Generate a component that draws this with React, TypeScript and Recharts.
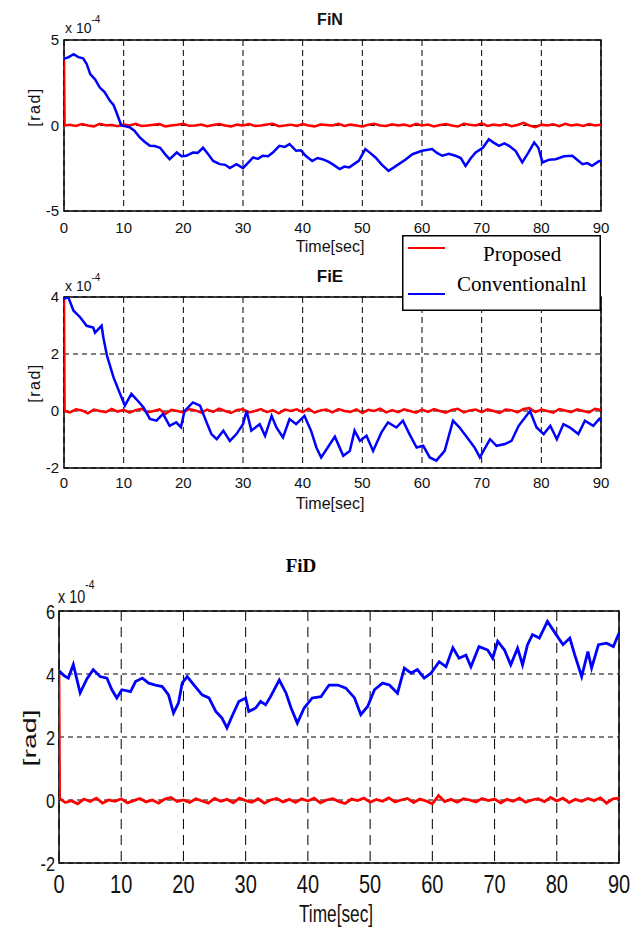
import React from 'react';
import { LineChart, Line, XAxis, YAxis, CartesianGrid, ReferenceArea, Legend } from 'recharts';

const SANS = 'Liberation Sans, Arial, Helvetica, sans-serif';
const SERIF = 'Liberation Serif, Times New Roman, serif';

const timeTicks = [0, 10, 20, 30, 40, 50, 60, 70, 80, 90];
const finTicks = [-5, 0, 5];
const fieTicks = [-2, 0, 2, 4];
const fidTicks = [-2, 0, 2, 4, 6];

// Conventional (blue) traces: time [sec], value [x1e-4 rad]
const finBlueT = [0, 0.8, 1.6, 2.4, 3.2, 3.8, 4.4, 5.2, 6.0, 6.8, 7.7, 8.3, 8.8, 9.6, 10.3, 11.0, 11.8, 12.7, 13.5, 14.4, 15.2, 16.1, 17.0, 17.7, 18.9, 19.7, 20.5, 21.6, 22.4, 23.3, 24.2, 25.0, 26.1, 27.0, 27.8, 28.9, 30.0, 30.8, 31.7, 32.5, 33.3, 34.2, 35.0, 36.1, 37.0, 37.8, 38.9, 39.7, 40.5, 41.6, 42.5, 43.3, 44.2, 45.0, 46.2, 47.0, 47.8, 49.4, 50.5, 51.3, 52.2, 53.3, 54.4, 55.3, 56.1, 57.2, 58.4, 60.0, 61.7, 62.5, 63.4, 64.5, 65.6, 66.5, 67.3, 68.2, 69.0, 70.2, 71.2, 72.0, 72.9, 73.8, 74.6, 75.7, 76.8, 77.8, 78.8, 79.5, 80.2, 81.3, 82.4, 83.8, 85.2, 86.0, 86.9, 87.7, 88.5, 89.6, 90];
const finBlueV = [3.9, 4.0, 4.17, 4.0, 3.93, 3.6, 3.0, 2.7, 2.22, 1.95, 1.44, 1.2, 0.76, 0.0, -0.05, -0.1, -0.3, -0.7, -0.95, -1.19, -1.2, -1.3, -1.7, -1.97, -1.58, -1.8, -1.77, -1.58, -1.6, -1.3, -1.7, -2.07, -2.26, -2.3, -2.49, -2.26, -2.49, -2.2, -1.87, -1.95, -1.77, -1.8, -1.58, -1.19, -1.25, -1.09, -1.48, -1.45, -1.77, -2.07, -1.9, -1.97, -2.1, -2.26, -2.55, -2.4, -2.45, -2.07, -1.38, -1.6, -1.87, -2.3, -2.65, -2.45, -2.26, -2.0, -1.68, -1.48, -1.38, -1.6, -1.77, -1.65, -1.77, -1.9, -2.36, -1.9, -1.58, -1.3, -0.8, -1.0, -1.19, -1.05, -1.19, -1.5, -2.16, -1.6, -0.99, -1.3, -2.16, -2.0, -1.97, -1.8, -1.77, -2.0, -2.26, -2.2, -2.36, -2.1, -2.05];

const fieBlueT = [0, 0.7, 1.6, 2.7, 3.8, 4.9, 5.2, 6.3, 6.6, 7.2, 8.3, 9.4, 10.2, 11.3, 12.1, 13.3, 14.4, 15.5, 16.6, 17.7, 18.8, 19.6, 20.2, 21.6, 22.8, 23.9, 24.7, 25.6, 26.7, 27.8, 28.9, 30.0, 30.6, 31.4, 32.8, 33.7, 34.8, 35.6, 36.7, 37.8, 38.9, 40.3, 41.4, 42.3, 43.1, 44.2, 45.4, 46.8, 47.9, 48.7, 49.6, 50.7, 51.8, 53.2, 54.3, 55.7, 56.8, 57.9, 59.1, 60.2, 61.3, 62.4, 63.8, 65.2, 66.3, 68.0, 68.8, 69.7, 70.3, 71.4, 72.5, 73.9, 75.0, 76.2, 77.3, 78.1, 79.2, 80.4, 81.5, 82.6, 83.7, 84.8, 86.2, 87.3, 88.7, 89.7, 90];
const fieBlueV = [3.93, 4.0, 3.52, 3.29, 2.99, 2.93, 2.75, 2.99, 2.58, 1.94, 1.18, 0.6, 0.19, 0.6, 0.42, 0.13, -0.28, -0.34, -0.1, -0.52, -0.4, -0.57, 0.0, 0.3, 0.19, -0.4, -0.81, -0.99, -0.69, -1.05, -0.81, -0.46, 0.0, -0.69, -0.46, -0.87, -0.17, -0.58, -0.93, -0.28, -0.46, -0.17, -0.69, -1.28, -1.63, -1.28, -0.9, -1.57, -1.4, -0.69, -1.05, -0.87, -1.4, -0.75, -0.4, -0.58, -0.34, -0.81, -1.28, -1.22, -1.63, -1.74, -1.4, -0.34, -0.58, -1.05, -1.28, -1.63, -1.4, -0.99, -1.22, -1.16, -1.05, -0.52, -0.22, 0.0, -0.58, -0.81, -0.52, -0.99, -0.46, -0.58, -0.81, -0.34, -0.52, -0.28, -0.35];

const fidBlueT = [0, 0.8, 1.5, 2.3, 3.4, 4.5, 5.5, 6.6, 7.7, 8.5, 9.3, 10.1, 11.5, 12.3, 13.4, 14.4, 15.5, 16.6, 17.6, 18.4, 19.2, 19.8, 20.6, 21.9, 23.0, 24.1, 25.2, 26.2, 27.0, 27.9, 28.9, 30.0, 30.5, 31.6, 32.4, 33.2, 34.0, 35.4, 36.5, 37.3, 38.3, 39.4, 40.7, 42.1, 43.4, 44.8, 46.1, 47.5, 48.5, 49.6, 50.7, 52.0, 53.1, 54.4, 55.5, 56.6, 57.6, 58.7, 59.8, 61.1, 62.2, 63.3, 64.3, 65.4, 66.2, 67.5, 68.9, 69.7, 70.5, 71.6, 72.6, 73.7, 74.5, 75.3, 76.1, 77.2, 78.5, 79.9, 81.0, 82.1, 82.9, 84.0, 85.0, 85.6, 86.7, 88.0, 89.1, 90];
const fidBlueV = [4.1, 3.95, 3.87, 4.3, 3.4, 3.85, 4.14, 3.92, 3.87, 3.5, 3.24, 3.5, 3.44, 3.76, 3.87, 3.71, 3.65, 3.6, 3.34, 2.76, 3.08, 3.71, 3.92, 3.6, 3.34, 3.24, 2.81, 2.6, 2.29, 2.7, 3.13, 3.24, 2.81, 2.92, 3.13, 3.02, 3.28, 3.81, 3.39, 2.92, 2.44, 2.92, 3.24, 3.28, 3.65, 3.65, 3.55, 3.24, 2.71, 2.97, 3.5, 3.71, 3.65, 3.39, 4.19, 4.03, 4.14, 3.87, 4.03, 4.39, 4.23, 4.83, 4.5, 4.6, 4.23, 4.87, 4.76, 4.5, 5.04, 4.76, 4.29, 4.82, 4.29, 4.93, 5.25, 5.14, 5.67, 5.25, 4.93, 5.14, 4.6, 3.92, 4.71, 4.19, 4.93, 4.98, 4.87, 5.3];

// Proposed (red) traces: starting value at t = 0, then one sample per second from 0 to 90
const finRedStart = 3.8;
const finRed = [
  0, 0.04, -0.03, 0.08, 0, -0.05, 0.1, 0.02, 0.03, -0.04,
  0.06, 0, 0.1, -0.03, 0, 0.05, 0.08, -0.05, 0, 0.04,
  0.1, -0.02, 0, 0.06, -0.04, 0.03, 0.09, 0, -0.05, 0.05,
  0, 0.08, -0.03, 0, 0.06, 0.1, -0.04, 0, 0.05, -0.02,
  0.08, 0, -0.05, 0.06, 0.03, 0, 0.1, -0.03, 0.05, 0,
  -0.06, 0.04, 0.1, 0, -0.03, 0.07, 0, 0.05, -0.04, 0.1,
  0, 0.06, -0.05, 0.03, 0.08, 0, -0.06, 0.1, 0.04, 0,
  0.12, -0.03, 0.05, 0, 0.08, -0.04, 0.03, 0.15, 0, -0.1,
  0.05, 0, 0.07, -0.04, 0.1, 0, 0.05, -0.03, 0.08, 0,
  0.04,
];
const fieRedStart = 3.9;
const fieRed = [
  0, -0.05, 0.06, 0.02, -0.08, 0.05, 0, -0.04, 0.07, -0.02,
  0.04, -0.06, 0.03, 0.08, -0.05, 0, 0.06, -0.1, 0.04, 0,
  -0.05, 0.07, 0.02, -0.06, 0.05, -0.03, 0.08, 0, -0.07, 0.04,
  0.06, -0.05, 0, 0.07, -0.04, 0.03, -0.08, 0.05, 0, 0.06,
  -0.04, 0.08, -0.06, 0.02, 0.05, -0.05, 0.07, 0, -0.03, 0.06,
  -0.07, 0.04, 0, 0.08, -0.05, 0.03, -0.04, 0.06, 0, -0.06,
  0.05, -0.03, 0.07, 0, -0.06, 0.04, 0.08, -0.05, 0.02, 0.05,
  -0.04, 0.06, 0, -0.07, 0.05, 0.03, -0.05, 0.07, 0.1, -0.04,
  0.05, 0, -0.06, 0.07, 0.02, -0.04, 0.06, 0, -0.05, 0.08,
  0.03,
];
const fidRedStart = 4.0;
const fidRed = [
  0.05, -0.08, -0.02, -0.12, 0.03, -0.05, 0.06, -0.1, 0, -0.04,
  0.04, -0.09, -0.02, 0.05, -0.06, 0, -0.1, 0.03, 0.08, -0.05,
  0, -0.08, 0.04, -0.03, -0.1, 0.05, -0.04, 0.02, -0.09, 0.06,
  -0.02, -0.07, 0.04, -0.1, 0, 0.05, -0.06, 0.02, -0.08, 0.04,
  -0.03, 0.06, -0.09, 0, 0.04, -0.05, -0.11, 0.03, -0.02, 0.06,
  -0.07, 0.02, -0.04, 0.07, -0.06, 0, 0.05, -0.08, 0.03, -0.03,
  -0.12, 0.14, -0.05, 0.02, -0.07, 0.04, 0, -0.06, 0.05, -0.02,
  0.03, -0.09, 0.02, -0.04, 0.06, -0.07, 0, 0.04, -0.05, 0.08,
  -0.03, 0.06, -0.08, 0.02, -0.04, 0.05, -0.02, 0.07, -0.1, 0.04,
  0.06,
];

type Pt = { t: number; v: number };
const pairs = (ts: number[], vs: number[]): Pt[] => ts.map((t, i) => ({ t, v: vs[i] }));
const redTrace = (start: number, vs: number[]): Pt[] => [
  { t: 0, v: start },
  ...vs.map((v, i) => ({ t: i === 0 ? 0.1 : i, v })),
];

const RED = '#ff0000';
const BLUE = '#0000ff';
const PROPOSED = 'Proposed';
const CONVENTIONAL = 'Conventionalnl';

const LegendBox = ({ payload }: any) => (
  <svg width={199} height={76} style={{ display: 'block' }}>
    <rect x={0.75} y={0.75} width={197.5} height={74.5} fill="#fff" stroke="#000" strokeWidth={1.5} />
    {(payload || []).map((p: any) => {
      const first = p.value === PROPOSED;
      const ly = first ? 13 : 59;
      return (
        <g key={p.value}>
          <line x1={6} x2={43} y1={ly} y2={ly} stroke={p.color} strokeWidth={2} />
          <text x={first ? 81 : 55} y={first ? 26 : 56} fontFamily={SERIF} fontSize={21} fill="#000">
            {p.value}
          </text>
        </g>
      );
    })}
  </svg>
);

// FiD uses a vertically stretched font in the picture
const FidXTick = ({ x, y, payload }: any) => (
  <text transform={`translate(${x},${y + 30}) scale(0.8,1)`} textAnchor="middle" fontSize={25} fontFamily={SANS} fill="#111">
    {payload.value}
  </text>
);
const FidYTick = ({ x, y, payload }: any) => (
  <text transform={`translate(${x},${y + 7.5}) scale(0.78,1)`} textAnchor="end" fontSize={21} fontFamily={SANS} fill="#111">
    {payload.value}
  </text>
);

interface PanelProps {
  top: number;
  height: number;
  margin: { top: number; right: number; bottom: number; left: number };
  yWidth: number;
  yDomain: [number, number];
  yTicks: number[];
  red: Pt[];
  blue: Pt[];
  lineWidth: number;
  xTick: any;
  yTick: any;
  xHeight: number;
  xTickMargin: number;
  yTickMargin: number;
  vDash: string;
  hDash: string;
  legend?: boolean;
}

function Panel(p: PanelProps) {
  return (
    <div style={{ position: 'absolute', left: 0, top: p.top }}>
      <LineChart width={635} height={p.height} margin={p.margin}>
        <CartesianGrid vertical={false} stroke="#000" strokeDasharray={p.hDash} />
        <CartesianGrid horizontal={false} stroke="#000" strokeDasharray={p.vDash} />
        <XAxis
          type="number"
          dataKey="t"
          domain={[0, 90]}
          ticks={timeTicks}
          interval={0}
          allowDataOverflow
          axisLine={false}
          tickLine={false}
          tickSize={0}
          tickMargin={p.xTickMargin}
          height={p.xHeight}
          tick={p.xTick}
        />
        <YAxis
          type="number"
          domain={p.yDomain}
          ticks={p.yTicks}
          interval={0}
          allowDataOverflow
          axisLine={false}
          tickLine={false}
          tickSize={0}
          tickMargin={p.yTickMargin}
          width={p.yWidth}
          tick={p.yTick}
        />
        <Line data={p.red} dataKey="v" name={PROPOSED} type="linear" stroke={RED} strokeWidth={p.lineWidth} dot={false} activeDot={false} isAnimationActive={false} />
        <Line data={p.blue} dataKey="v" name={CONVENTIONAL} type="linear" stroke={BLUE} strokeWidth={p.lineWidth} dot={false} activeDot={false} isAnimationActive={false} />
        <ReferenceArea x1={0} x2={90} y1={p.yDomain[0]} y2={p.yDomain[1]} fill="none" stroke="#000" strokeWidth={1.5} />
        {p.legend && (
          <Legend
            layout="horizontal"
            verticalAlign="middle"
            align="center"
            content={<LegendBox />}
            wrapperStyle={{ left: 402, top: 5, width: 199, height: 76 }}
          />
        )}
      </LineChart>
    </div>
  );
}

const smallTick = { fontSize: 15, fill: '#111', fontFamily: SANS };

export default function App() {
  return (
    <div style={{ position: 'absolute', left: 0, top: 0, width: 635, height: 928, background: '#fff' }}>
      <svg width={635} height={928} style={{ position: 'absolute', left: 0, top: 0 }}>
        <g fontFamily={SANS} fill="#111">
          <text x={330} y={25} textAnchor="middle" fontWeight="bold" fontSize={16}>FiN</text>
          <text x={65} y={33} fontSize={14}>x 10<tspan dy={-10} fontSize={10}>-4</tspan></text>
          <text transform="translate(40,107) rotate(-90)" textAnchor="middle" fontSize={16} letterSpacing={1.5}>[rad]</text>
          <text x={330} y={252} textAnchor="middle" fontSize={16}>Time[sec]</text>

          <text x={330} y={282} textAnchor="middle" fontWeight="bold" fontSize={17}>FiE</text>
          <text x={65} y={291} fontSize={14}>x 10<tspan dy={-10} fontSize={10}>-4</tspan></text>
          <text transform="translate(40,383) rotate(-90)" textAnchor="middle" fontSize={16} letterSpacing={1.5}>[rad]</text>
          <text x={330} y={509} textAnchor="middle" fontSize={16}>Time[sec]</text>
        </g>
        <text x={301} y={572} textAnchor="middle" fontWeight="bold" fontSize={19} fontFamily={SERIF} fill="#000">FiD</text>
        <g fontFamily={SANS} fill="#111">
          <text transform="translate(58,603) scale(0.8,1)" fontSize={18}>x 10<tspan dy={-14} fontSize={13}>-4</tspan></text>
          <text transform="translate(36,738) rotate(-90) scale(1.5,1)" textAnchor="middle" fontSize={19}>[rad]</text>
          <text transform="translate(336,922) scale(0.72,1)" textAnchor="middle" fontSize={24}>Time[sec]</text>
        </g>
      </svg>

      <Panel
        top={0}
        height={260}
        margin={{ top: 40, right: 34, bottom: 19, left: 0 }}
        yWidth={64}
        yDomain={[-5, 5]}
        yTicks={finTicks}
        red={redTrace(finRedStart, finRed)}
        blue={pairs(finBlueT, finBlueV)}
        lineWidth={2.5}
        xTick={smallTick}
        yTick={smallTick}
        xHeight={30}
        xTickMargin={11}
        yTickMargin={5}
        vDash="6 4"
        hDash="5 4"
      />
      <Panel
        top={230}
        height={290}
        margin={{ top: 67, right: 34, bottom: 22, left: 0 }}
        yWidth={64}
        yDomain={[-2, 4]}
        yTicks={fieTicks}
        red={redTrace(fieRedStart, fieRed)}
        blue={pairs(fieBlueT, fieBlueV)}
        lineWidth={2.5}
        xTick={smallTick}
        yTick={smallTick}
        xHeight={30}
        xTickMargin={9}
        yTickMargin={5}
        vDash="6 4"
        hDash="5 4"
        legend
      />
      <Panel
        top={540}
        height={388}
        margin={{ top: 71, right: 16, bottom: 25, left: 0 }}
        yWidth={59}
        yDomain={[-2, 6]}
        yTicks={fidTicks}
        red={redTrace(fidRedStart, fidRed)}
        blue={pairs(fidBlueT, fidBlueV)}
        lineWidth={2.8}
        xTick={<FidXTick />}
        yTick={<FidYTick />}
        xHeight={40}
        xTickMargin={0}
        yTickMargin={4}
        vDash="10 6"
        hDash="5 4"
      />
    </div>
  );
}
